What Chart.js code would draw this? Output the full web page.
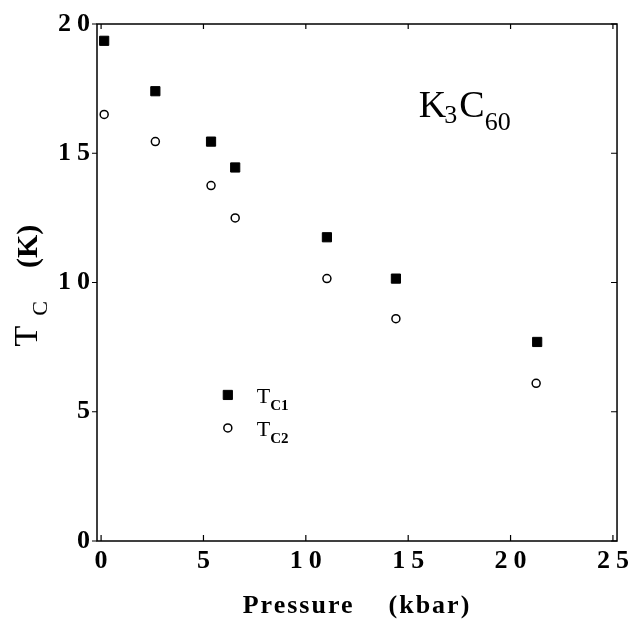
<!DOCTYPE html>
<html>
<head>
<meta charset="utf-8">
<script src="https://cdn.jsdelivr.net/npm/chart.js@4"></script>
<style>
  html, body { margin: 0; padding: 0; background: #fff; }
</style>
</head>
<body>
<canvas id="c" width="631" height="620"></canvas>
<script>
// Tc vs pressure for K3C60
const pressure1 = [0.15, 2.65, 5.37, 6.55, 11.03, 14.4, 21.3];
const tc1 = [19.35, 17.4, 15.45, 14.45, 11.75, 10.15, 7.7];
const pressure2 = [0.15, 2.65, 5.37, 6.55, 11.03, 14.4, 21.25];
const tc2 = [16.5, 15.45, 13.75, 12.5, 10.15, 8.6, 6.1];
const seriesNames = ["TC1", "TC2"];
const serif = "'Liberation Serif', 'Times New Roman', serif";

function drawParts(ctx, x, y, parts) {
  let cx = x;
  parts.forEach(p => {
    ctx.font = p.font;
    ctx.fillText(p.text, cx, y + (p.dy || 0));
    cx += ctx.measureText(p.text).width + (p.gap || 0);
  });
}

const framePlugin = {
  id: "frame",
  beforeDraw(chart) {
    chart.ctx.letterSpacing = "6px";
  },
  beforeDatasetsDraw(chart) {
    const { ctx, chartArea: a, scales: { x, y } } = chart;
    ctx.save();
    ctx.strokeStyle = "#000";
    ctx.lineWidth = 1.5;
    ctx.strokeRect(a.left, a.top, a.right - a.left, a.bottom - a.top);
    ctx.lineWidth = 1.2;
    ctx.beginPath();
    x.ticks.forEach(t => {
      const px = x.getPixelForValue(t.value);
      ctx.moveTo(px, a.bottom); ctx.lineTo(px, a.bottom - 6);
      ctx.moveTo(px, a.top); ctx.lineTo(px, a.top + 5);
    });
    y.ticks.forEach(t => {
      const py = y.getPixelForValue(t.value);
      ctx.moveTo(a.left, py); ctx.lineTo(a.left - 5, py);
      ctx.moveTo(a.right, py); ctx.lineTo(a.right - 6, py);
    });
    ctx.stroke();
    ctx.restore();
  },
  afterDraw(chart) {
    const { ctx, chartArea: a, scales: { x, y } } = chart;
    ctx.save();
    ctx.fillStyle = "#000";
    ctx.textAlign = "left";
    ctx.textBaseline = "alphabetic";

    // x title
    ctx.letterSpacing = "2px";
    ctx.font = "bold 26px " + serif;
    const xt = "Pressure    (kbar)";
    const w = ctx.measureText(xt).width;
    ctx.fillText(xt, (a.left + a.right) / 2 - w / 2, 613);

    // y title, rotated
    ctx.letterSpacing = "0px";
    ctx.save();
    ctx.translate(a.left - 60, (a.top + a.bottom) / 2);
    ctx.rotate(-Math.PI / 2);
    drawParts(ctx, -64, 0, [
      { text: "T", font: "34px " + serif, gap: 10 },
      { text: "C", font: "22px " + serif, dy: 10, gap: 33 },
      { text: "(K)", font: "bold 30px " + serif }
    ]);
    ctx.restore();

    // compound label
    drawParts(ctx, x.getPixelForValue(15.52), y.getPixelForValue(16.4), [
      { text: "K", font: "38px " + serif, gap: -2 },
      { text: "3", font: "26px " + serif, dy: 6, gap: 2 },
      { text: "C", font: "38px " + serif, gap: 0 },
      { text: "60", font: "26px " + serif, dy: 13 }
    ]);

    // legend
    const mx = x.getPixelForValue(6.19);
    const my = y.getPixelForValue(5.65);
    chart.data.datasets.forEach((ds, i) => {
      const py = my + i * 33;
      ctx.fillStyle = ds.backgroundColor;
      ctx.strokeStyle = ds.borderColor;
      ctx.lineWidth = ds.borderWidth;
      Chart.helpers.drawPoint(ctx, {
        pointStyle: ds.pointStyle, radius: ds.pointRadius,
        borderWidth: ds.borderWidth, rotation: 0
      }, mx, py);
      ctx.fillStyle = "#000";
      const name = seriesNames[i];
      drawParts(ctx, mx + 29, py + 8, [
        { text: name[0], font: "22px " + serif, gap: 0 },
        { text: name.slice(1), font: "bold 15px " + serif, dy: 7 }
      ]);
    });
    ctx.restore();
  }
};

const ctx = document.getElementById("c").getContext("2d");
new Chart(ctx, {
  type: "scatter",
  data: {
    datasets: [
      {
        label: seriesNames[0],
        data: pressure1.map((p, i) => ({ x: p, y: tc1[i] })),
        pointStyle: "rect",
        pointRadius: 6.5,
        backgroundColor: "#000",
        borderColor: "#000",
        borderWidth: 1
      },
      {
        label: seriesNames[1],
        data: pressure2.map((p, i) => ({ x: p, y: tc2[i] })),
        pointStyle: "circle",
        pointRadius: 4,
        backgroundColor: "#fff",
        borderColor: "#000",
        borderWidth: 1.5
      }
    ]
  },
  options: {
    responsive: false,
    animation: false,
    layout: { padding: { top: 24, right: 9, left: 0, bottom: 0 } },
    plugins: { legend: { display: false }, tooltip: { enabled: false } },
    scales: {
      x: {
        type: "linear",
        min: -0.2,
        max: 25.2,
        ticks: {
          stepSize: 5, includeBounds: false, color: "#000", padding: 5, labelOffset: 3,
          font: { family: serif, size: 26, weight: "bold" }
        },
        grid: { display: false, drawTicks: false },
        border: { display: false },
        afterFit(s) { s.height = 79; }
      },
      y: {
        min: 0,
        max: 20,
        ticks: {
          stepSize: 5, color: "#000", padding: 1,
          font: { family: serif, size: 26, weight: "bold" }
        },
        grid: { display: false, drawTicks: false },
        border: { display: false },
        afterFit(s) { s.width = 97; }
      }
    }
  },
  plugins: [framePlugin]
});
</script>
</body>
</html>
